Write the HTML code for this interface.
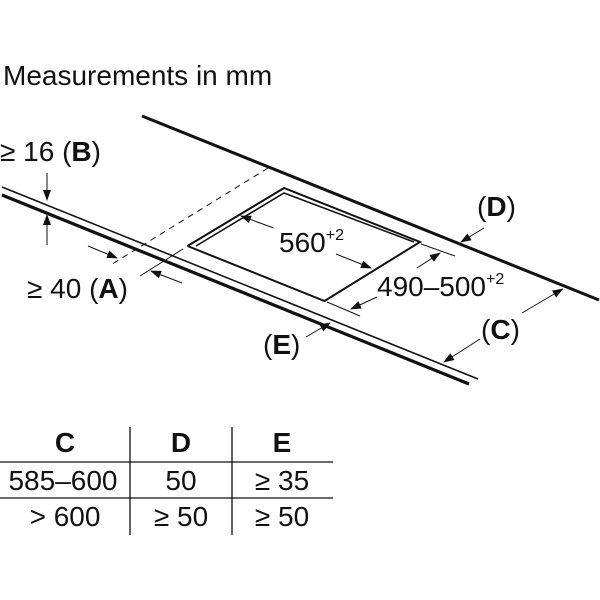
<!DOCTYPE html>
<html><head><meta charset="utf-8"><style>
html,body{margin:0;padding:0;background:#fff;}
svg{display:block;}
text{font-family:"Liberation Sans",sans-serif;fill:#111;}
</style></head><body>
<svg width="600" height="600" viewBox="0 0 600 600" xmlns="http://www.w3.org/2000/svg">
<defs>
<marker id="ar" markerWidth="11" markerHeight="8" refX="10" refY="4" orient="auto" markerUnits="userSpaceOnUse">
<path d="M0,0 L11,4 L0,8 z" fill="#111"/></marker>
</defs>
<text x="3" y="85" font-size="28">Measurements in mm</text>
<g stroke="#111" fill="none">
<line x1="142" y1="116" x2="599" y2="300" stroke-width="3"/>
<line x1="2" y1="187" x2="478" y2="379" stroke-width="1.6"/>
<line x1="2" y1="195" x2="469" y2="384" stroke-width="3.2"/>
<line x1="268" y1="168" x2="109" y2="266" stroke-width="1" stroke-dasharray="6,5"/>
<polyline points="187.5,246 284,188 420,242 324.5,301 187.5,246" stroke-width="2"/>
<polyline points="196,246 284,193 414,242" stroke-width="1.6"/>
<g stroke-width="1">
<line x1="47" y1="173" x2="47" y2="200" marker-end="url(#ar)"/>
<line x1="47" y1="245" x2="47" y2="215" marker-end="url(#ar)"/>
<line x1="140" y1="276" x2="183" y2="249"/>
<line x1="88" y1="246" x2="117" y2="258" marker-end="url(#ar)"/>
<line x1="182" y1="283" x2="151" y2="271" marker-end="url(#ar)"/>
<line x1="273.6" y1="228" x2="241" y2="216" marker-end="url(#ar)"/>
<line x1="336" y1="254" x2="371" y2="268" marker-end="url(#ar)"/>
<line x1="421" y1="244" x2="455" y2="256"/>
<line x1="327" y1="302" x2="360" y2="316"/>
<line x1="417" y1="268" x2="440" y2="253" marker-end="url(#ar)"/>
<line x1="377" y1="297" x2="351" y2="309" marker-end="url(#ar)"/>
<line x1="484" y1="228" x2="461" y2="242" marker-end="url(#ar)"/>
<line x1="522" y1="313" x2="562.6" y2="289" marker-end="url(#ar)"/>
<line x1="480" y1="339" x2="444" y2="362" marker-end="url(#ar)"/>
<line x1="306" y1="337" x2="330" y2="323" marker-end="url(#ar)"/>
</g>
</g>
<text x="0" y="161" font-size="28">≥ 16 (<tspan font-weight="bold">B</tspan>)</text>
<text x="27" y="298" font-size="28">≥ 40 (<tspan font-weight="bold">A</tspan>)</text>
<text x="279" y="252" font-size="28">560<tspan font-size="16" dy="-12">+2</tspan></text>
<text x="377" y="296" font-size="28">490–500<tspan font-size="16" dy="-12">+2</tspan></text>
<text x="477" y="216" font-size="28">(<tspan font-weight="bold">D</tspan>)</text>
<text x="481" y="339" font-size="28">(<tspan font-weight="bold">C</tspan>)</text>
<text x="263" y="354" font-size="28">(<tspan font-weight="bold">E</tspan>)</text>
<g stroke="#111" stroke-width="1.3">
<line x1="130" y1="427" x2="130" y2="535"/>
<line x1="232" y1="427" x2="232" y2="535"/>
<line x1="0" y1="462" x2="333" y2="462"/>
<line x1="0" y1="498" x2="333" y2="498"/>
</g>
<g font-size="28" text-anchor="middle">
<text x="65" y="452" font-weight="bold">C</text>
<text x="181" y="452" font-weight="bold">D</text>
<text x="282" y="452" font-weight="bold">E</text>
<text x="63" y="490">585–600</text>
<text x="181" y="490">50</text>
<text x="282" y="490">≥ 35</text>
<text x="65" y="526">&gt; 600</text>
<text x="181" y="526">≥ 50</text>
<text x="282" y="526">≥ 50</text>
</g>
</svg>
</body></html>
